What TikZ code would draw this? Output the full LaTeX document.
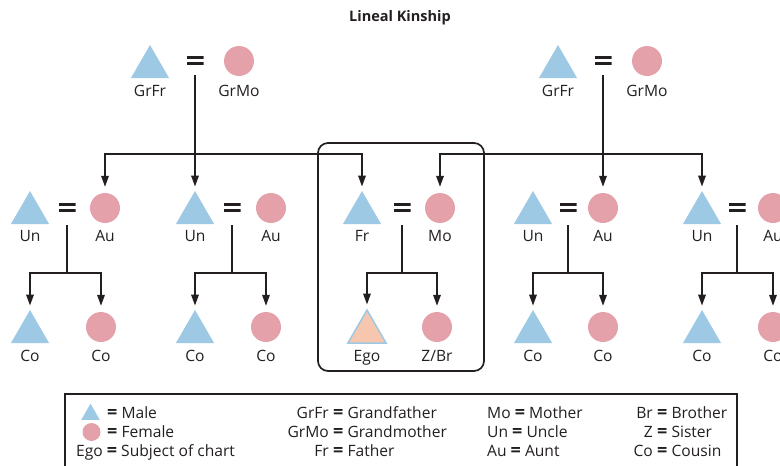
\documentclass[tikz,border=0pt]{standalone}
\usepackage{fontspec}
\setmainfont{Open Sans}
\usetikzlibrary{shapes.geometric,arrows.meta}
\definecolor{mblue}{HTML}{9DC9E4}
\definecolor{fpink}{HTML}{E5A1A9}
\definecolor{egoc}{HTML}{F7C6AE}
\definecolor{ink}{HTML}{231F20}
\newcommand{\kq}{{\fontsize{18}{18}\selectfont\bfseries =}}
\tikzset{
  male/.style={regular polygon, regular polygon sides=3, minimum size=44pt, inner sep=0pt, fill=mblue},
  female/.style={circle, minimum size=30pt, inner sep=0pt, fill=fpink},
  egotri/.style={male, fill=egoc, draw=mblue, line width=1.5pt},
  lab/.style={anchor=base, inner sep=0pt, text=ink},
  lgl/.style={anchor=base east, inner sep=0pt, text=ink},
  lgr/.style={anchor=base west, inner sep=0pt, text=ink},
  eqs/.style={minimum width=17pt, minimum height=9pt, inner sep=0pt,
    path picture={
      \fill[ink] (path picture bounding box.north west) rectangle ([yshift=-3pt]path picture bounding box.north east);
      \fill[ink] (path picture bounding box.south west) rectangle ([yshift=3pt]path picture bounding box.south east);}},
  conn/.style={draw=ink, line width=1.7pt},
  arrT/.style={conn, -{Triangle[length=11pt,width=7.5pt]}, shorten >=4pt},
  arrC/.style={conn, -{Triangle[length=11pt,width=7.5pt]}, shorten >=6pt},
  kinbox/.style={draw=ink, line width=1.7pt, rounded corners=10pt},
}
\begin{document}
\begin{tikzpicture}[x=1pt,y=-1pt,font=\fontsize{15.6}{18}\selectfont]
\useasboundingbox (0,0) rectangle (780,466);
\clip (0,0) rectangle (780,466);

\node[inner sep=0pt, text=ink, font=\bfseries\fontsize{14.5}{17}\selectfont] (title) at (400,18) {Lineal Kinship};

% ---- grandparents
\node[male] (gf1) at (150,67) {};
\node[eqs] (e1) at (195,60.5) {};
\node[female] (gm1) at (239,61) {};
\node[lab] (gf1l) at (150,96) {GrFr};
\node[lab] (gm1l) at (239,96) {GrMo};

\node[male] (gf2) at (558,67) {};
\node[eqs] (e2) at (603,60.5) {};
\node[female] (gm2) at (647,61) {};
\node[lab] (gf2l) at (558,96) {GrFr};
\node[lab] (gm2l) at (647,96) {GrMo};

% ---- second row
\node[male] (un1) at (30,213) {};
\node[eqs] (e3) at (67,207) {};
\node[female] (au1) at (105,208) {};
\node[lab] (un1l) at (30,241) {Un};
\node[lab] (au1l) at (105,241) {Au};

\node[male] (un2) at (195,213) {};
\node[eqs] (e4) at (232,207) {};
\node[female] (au2) at (271,208) {};
\node[lab] (un2l) at (195,241) {Un};
\node[lab] (au2l) at (271,241) {Au};

\node[male] (fr) at (362,213) {};
\node[eqs] (e5) at (402,207) {};
\node[female] (mo) at (440,208) {};
\node[lab] (frl) at (362,241) {Fr};
\node[lab] (mol) at (440,241) {Mo};

\node[male] (un3) at (533,213) {};
\node[eqs] (e6) at (568,207) {};
\node[female] (au3) at (603,208) {};
\node[lab] (un3l) at (533,241) {Un};
\node[lab] (au3l) at (603,241) {Au};

\node[male] (un4) at (702,213) {};
\node[eqs] (e7) at (737,207) {};
\node[female] (au4) at (773,208) {};
\node[lab] (un4l) at (702,241) {Un};
\node[lab] (au4l) at (773,241) {Au};

% ---- third row
\node[male] (c1a) at (30,332) {};
\node[female] (c1b) at (101,327) {};
\node[lab] (c1al) at (30,361) {Co};
\node[lab] (c1bl) at (101,361) {Co};

\node[male] (c2a) at (195,332) {};
\node[female] (c2b) at (266,327) {};
\node[lab] (c2al) at (195,361) {Co};
\node[lab] (c2bl) at (266,361) {Co};

\node[egotri] (ego) at (367,332) {};
\node[female] (zbr) at (437,327) {};
\node[lab] (egol) at (367,361) {Ego};
\node[lab] (zbrl) at (437,361) {Z/Br};

\node[male] (c4a) at (533,332) {};
\node[female] (c4b) at (603,327) {};
\node[lab] (c4al) at (533,361) {Co};
\node[lab] (c4bl) at (603,361) {Co};

\node[male] (c5a) at (702,332) {};
\node[female] (c5b) at (773,327) {};
\node[lab] (c5al) at (702,361) {Co};
\node[lab] (c5bl) at (773,361) {Co};

% ---- connectors, grandparents
\coordinate (s1) at (195,75);
\coordinate (j1) at (195,154);
\draw[arrT] (s1) -- (un2);
\draw[arrC] (j1) -| (au1);
\draw[arrT] (j1) -| (fr);

\coordinate (s2) at (603,75);
\coordinate (j2) at (603,154);
\draw[arrC] (s2) -- (au3);
\draw[arrC] (j2) -| (mo);
\draw[arrT] (j2) -| (un4);

% ---- connectors, families
\foreach \x/\a/\b [count=\k] in {67/c1a/c1b, 232/c2a/c2b, 402/ego/zbr, 568/c4a/c4b, 737/c5a/c5b}{
  \coordinate (fs\k) at (\x,225);
  \coordinate (fj\k) at (\x,273);
  \draw[conn] (fs\k) -- (fj\k);
  \draw[arrT] (fj\k) -| (\a);
  \draw[arrC] (fj\k) -| (\b);
}

% ---- ego box
\draw[kinbox] (318,143) rectangle (484,371);

% ---- legend
\draw[conn] (65,394) rectangle (737,492);
\node[male, minimum size=21.5pt] (lgm) at (90.5,414.5) {};
\node[female, minimum size=18pt] (lgf) at (91.5,432) {};
\node[lgr] (lg1) at (107,418) {\kq{} Male};
\node[lgr] (lg2) at (107,437) {\kq{} Female};
\node[lgr] (lg3) at (76,456) {Ego \kq{} Subject of chart};

\node[lgl] (k1a) at (329,418) {GrFr};
\node[lgr] (k1b) at (333,418) {\kq{} Grandfather};
\node[lgl] (k2a) at (329,437) {GrMo};
\node[lgr] (k2b) at (333,437) {\kq{} Grandmother};
\node[lgl] (k3a) at (329,456) {Fr};
\node[lgr] (k3b) at (333,456) {\kq{} Father};

\node[lgr] (m1) at (487,418) {Mo \kq{} Mother};
\node[lgr] (m2) at (487,437) {Un \kq{} Uncle};
\node[lgr] (m3) at (487,456) {Au \kq{} Aunt};

\node[lgl] (n1a) at (653,418) {Br};
\node[lgr] (n1b) at (657,418) {\kq{} Brother};
\node[lgl] (n2a) at (653,437) {Z};
\node[lgr] (n2b) at (657,437) {\kq{} Sister};
\node[lgl] (n3a) at (653,456) {Co};
\node[lgr] (n3b) at (657,456) {\kq{} Cousin};
\end{tikzpicture}
\end{document}
